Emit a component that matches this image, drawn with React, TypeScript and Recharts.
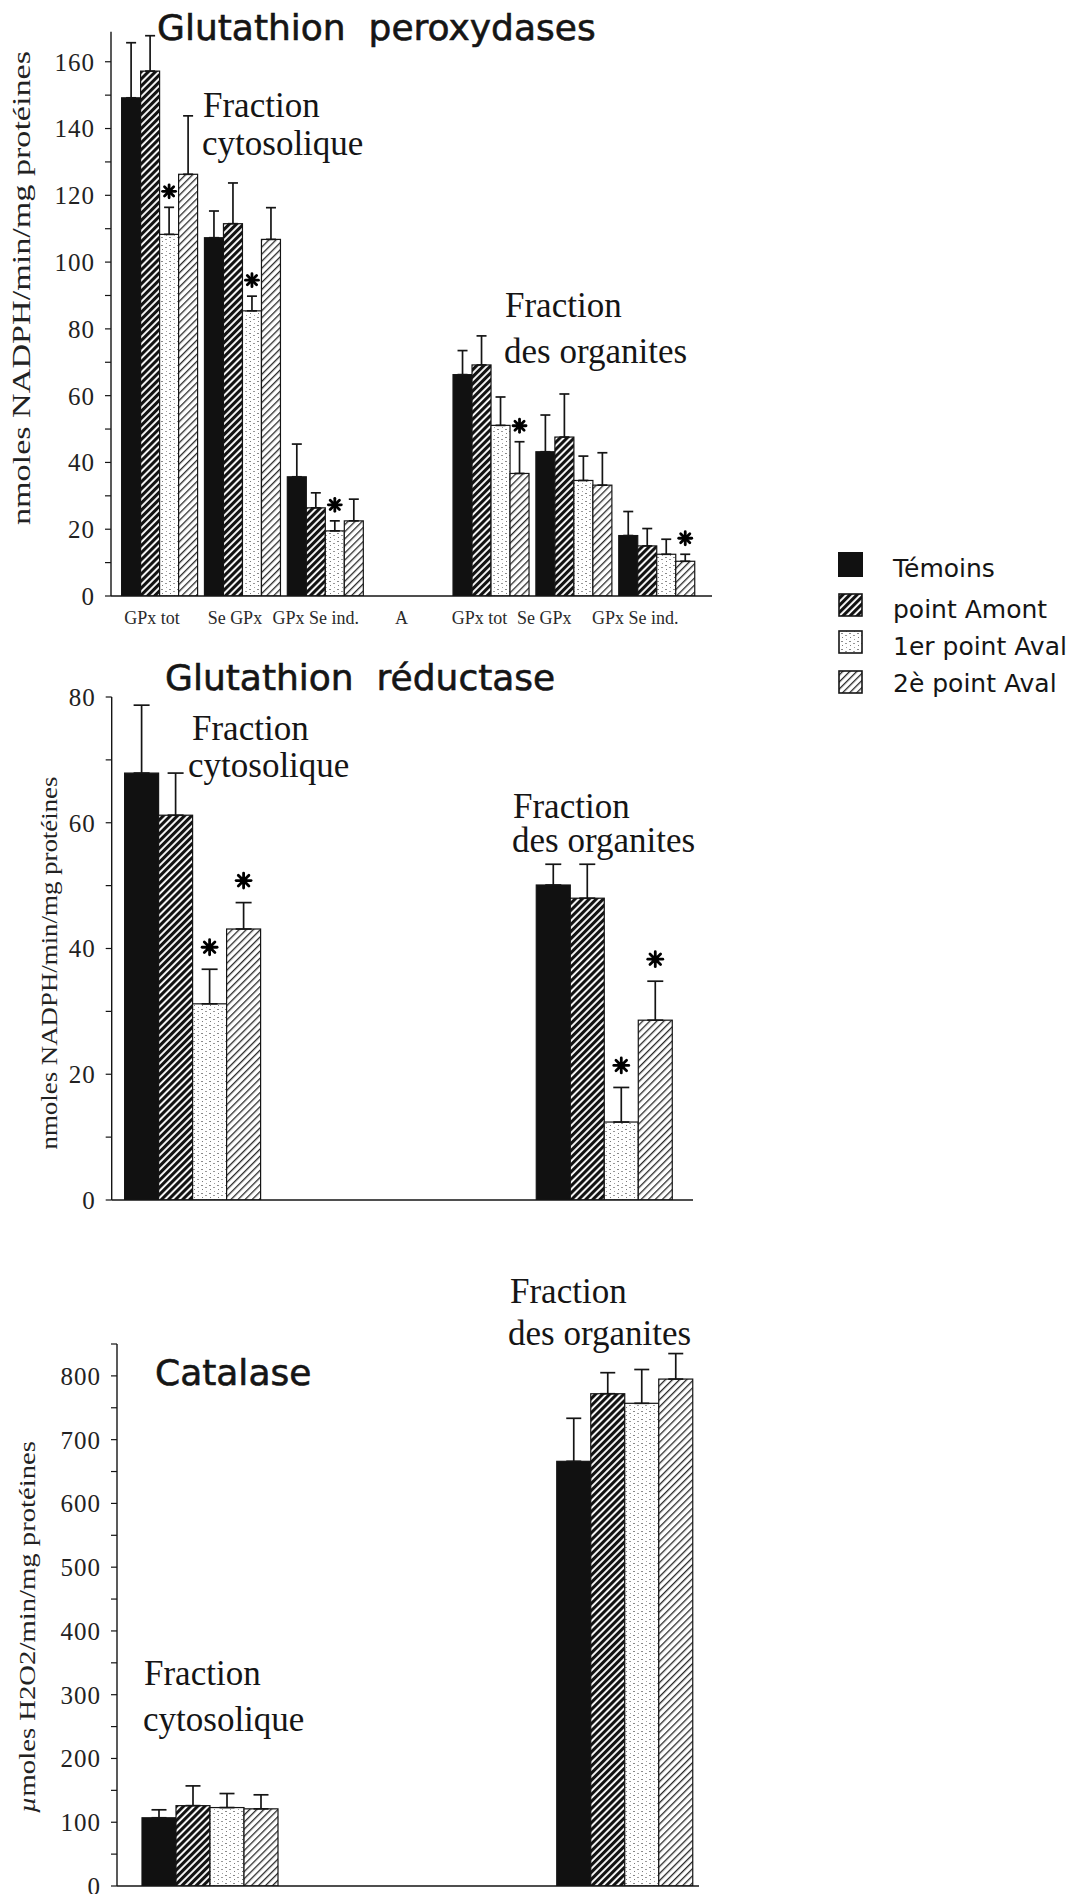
import React from 'react';
import { BarChart, Bar, XAxis, YAxis, ErrorBar } from 'recharts';

// ---------------- Series ----------------
const seriesNames = ['Témoins', 'point Amont', '1er point Aval', '2è point Aval'];

// ---------------- Glutathion peroxydases ----------------
const gpxCategories = ['GPx tot', 'Se GPx', 'GPx Se ind.', 'A', 'GPx tot', 'Se GPx', 'GPx Se ind.'];
const gpxTemoins = [149.2, 107.3, 35.7, null, 66.3, 43.2, 18.1];
const gpxAmont = [157.2, 111.5, 26.4, null, 69.2, 47.6, 15.0];
const gpxAval1 = [108.3, 85.4, 19.5, null, 51.1, 34.6, 12.5];
const gpxAval2 = [126.3, 106.8, 22.5, null, 36.7, 33.2, 10.4];
const gpxTemoinsErr = [16.5, 8.0, 9.8, null, 7.2, 11.0, 7.2];
const gpxAmontErr = [10.6, 12.2, 4.5, null, 8.7, 12.9, 5.2];
const gpxAval1Err = [8.1, 4.4, 3.0, null, 8.5, 7.3, 4.5];
const gpxAval2Err = [17.5, 9.5, 6.5, null, 9.5, 9.7, 2.1];
const gpxNoStar = [false, false, false, false, false, false, false];
const gpxAval1Star = [true, true, true, false, false, false, false];
const gpxAval2Star = [false, false, false, false, true, false, true];
const gpxTicks = [0, 10, 20, 30, 40, 50, 60, 70, 80, 90, 100, 110, 120, 130, 140, 150, 160];

// ---------------- Glutathion réductase ----------------
const grCategories = ['Fraction cytosolique', '', ' ', 'Fraction des organites'];
const grTemoins = [67.9, null, null, 50.1];
const grAmont = [61.2, null, null, 48.0];
const grAval1 = [31.2, null, null, 12.4];
const grAval2 = [43.1, null, null, 28.6];
const grTemoinsErr = [10.8, null, null, 3.3];
const grAmontErr = [6.7, null, null, 5.4];
const grAval1Err = [5.5, null, null, 5.5];
const grAval2Err = [4.2, null, null, 6.2];
const grNoStar = [false, false, false, false];
const grAval1Star = [true, false, false, true];
const grAval2Star = [true, false, false, true];
const grTicks = [0, 10, 20, 30, 40, 50, 60, 70, 80];

// ---------------- Catalase ----------------
const catCategories = ['Fraction cytosolique', '', ' ', 'Fraction des organites'];
const catTemoins = [107, null, null, 666];
const catAmont = [126, null, null, 772];
const catAval1 = [123, null, null, 757];
const catAval2 = [121, null, null, 795];
const catTemoinsErr = [12.5, null, null, 67.5];
const catAmontErr = [31, null, null, 33];
const catAval1Err = [22, null, null, 53];
const catAval2Err = [22, null, null, 40];
const catNoStar = [false, false, false, false];
const catTicks = [0, 50, 100, 150, 200, 250, 300, 350, 400, 450, 500, 550, 600, 650, 700, 750, 800, 850];

// ---------------- helpers ----------------
const FILLS = ['#111111', 'url(#hatchAmont)', 'url(#speckle)', 'url(#hatchAval2)'];
const INK = '#151515';
// horizontal nudges of the top chart's category labels (layout only)
const TOP_LABEL_DX = [-8, -8, -10, -7, -12, -30, -22];

function buildRows(cats: string[], values: (number | null)[][], errors: (number | null)[][], stars: boolean[][]) {
  return cats.map((c, k) => {
    const row: any = { cat: c };
    values.forEach((arr, i) => {
      row[`s${i}`] = arr[k];
      row[`e${i}`] = errors[i][k] == null ? null : [0, errors[i][k]];
      row[`st${i}`] = stars[i][k];
    });
    return row;
  });
}

const gpxRows = buildRows(
  gpxCategories,
  [gpxTemoins, gpxAmont, gpxAval1, gpxAval2],
  [gpxTemoinsErr, gpxAmontErr, gpxAval1Err, gpxAval2Err],
  [gpxNoStar, gpxNoStar, gpxAval1Star, gpxAval2Star]
);
const grRows = buildRows(
  grCategories,
  [grTemoins, grAmont, grAval1, grAval2],
  [grTemoinsErr, grAmontErr, grAval1Err, grAval2Err],
  [grNoStar, grNoStar, grAval1Star, grAval2Star]
);
const catRows = buildRows(
  catCategories,
  [catTemoins, catAmont, catAval1, catAval2],
  [catTemoinsErr, catAmontErr, catAval1Err, catAval2Err],
  [catNoStar, catNoStar, catNoStar, catNoStar]
);

function Star({ cx, cy, r }: { cx: number; cy: number; r: number }) {
  return (
    <g>
      {[0, 45, 90, 135].map((a) => {
        const t = (a * Math.PI) / 180;
        return (
          <line
            key={a}
            x1={cx - r * Math.cos(t)}
            y1={cy - r * Math.sin(t)}
            x2={cx + r * Math.cos(t)}
            y2={cy + r * Math.sin(t)}
            stroke="#000"
            strokeWidth={2.8}
            strokeLinecap="round"
          />
        );
      })}
      <circle cx={cx} cy={cy} r={r * 0.5} fill="#000" />
    </g>
  );
}

const makeShape = (i: number, starOffset: number, starR: number) => (props: any) => {
  const { x, y, width, height, payload } = props;
  if (x == null || y == null || height == null || isNaN(height) || !payload) return <g />;
  const v = payload[`s${i}`];
  const e = payload[`e${i}`];
  let starEl = null;
  if (payload[`st${i}`] && v) {
    const pxPerUnit = height / v;
    const capY = y - (e ? e[1] : 0) * pxPerUnit;
    starEl = <Star cx={x + width / 2} cy={capY - starOffset} r={starR} />;
  }
  return (
    <g>
      <rect x={x} y={y} width={width} height={height} fill={FILLS[i]} stroke={INK} strokeWidth={1.2} />
      {starEl}
    </g>
  );
};

const TopTick = (props: any) => {
  const { x, y, payload, index } = props;
  const dx = TOP_LABEL_DX[index] || 0;
  return (
    <text
      x={x + dx}
      y={y}
      dy="0.71em"
      textAnchor="middle"
      fontSize={18}
      fontFamily="Liberation Serif"
      fill="#2a2a2a"
    >
      {payload.value}
    </text>
  );
};

type PanelProps = {
  rows: any[];
  top: number;
  width: number;
  height: number;
  marginTop: number;
  marginRight: number;
  yAxisWidth: number;
  xHeight: number;
  xPadLeft: number;
  xPadRight: number;
  domain: [number, number];
  ticks: number[];
  labelEvery: number;
  barSize: number;
  capHalf: number;
  starOffset: number;
  starR: number;
  showXTicks: boolean;
};

function Panel(p: PanelProps) {
  return (
    <div style={{ position: 'absolute', left: 0, top: p.top }}>
      <BarChart
        width={p.width}
        height={p.height}
        data={p.rows}
        margin={{ top: p.marginTop, right: p.marginRight, bottom: 0, left: 0 }}
        barGap={0}
        barCategoryGap={0}
      >
        <XAxis
          dataKey="cat"
          interval={0}
          axisLine={{ stroke: INK, strokeWidth: 1.6 }}
          tickLine={false}
          tickSize={6}
          tickMargin={9.5}
          height={p.xHeight}
          padding={{ left: p.xPadLeft, right: p.xPadRight }}
          tick={p.showXTicks ? <TopTick /> : false}
        />
        <YAxis
          type="number"
          domain={p.domain}
          ticks={p.ticks}
          interval={0}
          allowDataOverflow
          width={p.yAxisWidth}
          tickSize={6}
          tickMargin={10}
          tickLine={{ stroke: INK, strokeWidth: 1.2 }}
          axisLine={{ stroke: INK, strokeWidth: 1.4 }}
          tickFormatter={(v: number) => (v % p.labelEvery === 0 ? String(v) : '')}
          tick={{ fontSize: 25, fontFamily: 'Liberation Serif', fill: '#222', letterSpacing: 1 }}
        />
        {seriesNames.map((name, i) => (
          <Bar
            key={name}
            name={name}
            dataKey={`s${i}`}
            fill={FILLS[i]}
            stroke={INK}
            barSize={p.barSize}
            isAnimationActive={false}
            shape={makeShape(i, p.starOffset, p.starR)}
          >
            <ErrorBar dataKey={`e${i}`} direction="y" width={p.capHalf} stroke={INK} strokeWidth={1.7} />
          </Bar>
        ))}
      </BarChart>
    </div>
  );
}

const serif = 'Liberation Serif';
const sans = 'DejaVu Sans';

function Overlay() {
  const legendY = [552, 594, 631, 671];
  const legendBase = [577, 618, 655, 692];
  const titleStyle = { whiteSpace: 'pre' as const };
  return (
    <svg
      width={1072}
      height={1894}
      style={{ position: 'absolute', left: 0, top: 0, pointerEvents: 'none' }}
    >
      <defs>
        <pattern id="hatchAmont" patternUnits="userSpaceOnUse" width={5} height={5} patternTransform="rotate(45)">
          <rect width={5} height={5} fill="#fff" />
          <rect x={0} y={0} width={3.1} height={5} fill="#121212" />
        </pattern>
        <pattern id="hatchAval2" patternUnits="userSpaceOnUse" width={5} height={5} patternTransform="rotate(45)">
          <rect width={5} height={5} fill="#fff" />
          <rect x={0} y={0} width={1.3} height={5} fill="#2a2a2a" />
        </pattern>
        <pattern id="speckle" patternUnits="userSpaceOnUse" width={8} height={8}>
          <rect width={8} height={8} fill="#fff" />
          <rect x={1} y={1} width={2} height={1} fill="#8a8a8a" />
          <rect x={5} y={3} width={2} height={1} fill="#9a9a9a" />
          <rect x={2} y={5} width={1} height={1} fill="#7a7a7a" />
          <rect x={6} y={7} width={1} height={1} fill="#a0a0a0" />
        </pattern>
      </defs>

      {/* Titles */}
      <g fontFamily={sans} fontSize={36} fill={INK} stroke={INK} strokeWidth={0.6}>
        <text x={157} y={40} style={titleStyle}>
          {'Glutathion  peroxydases'}
        </text>
        <text x={165} y={690} style={titleStyle}>
          {'Glutathion  réductase'}
        </text>
        <text x={155} y={1385}>Catalase</text>
      </g>

      {/* Fraction labels */}
      <g fontFamily={serif} fontSize={35} fill={INK}>
        <text x={203} y={117}>Fraction</text>
        <text x={202} y={155}>cytosolique</text>
        <text x={505} y={317}>Fraction</text>
        <text x={504} y={363}>des organites</text>

        <text x={192} y={740}>Fraction</text>
        <text x={188} y={777}>cytosolique</text>
        <text x={513} y={818}>Fraction</text>
        <text x={512} y={852}>des organites</text>

        <text x={510} y={1303}>Fraction</text>
        <text x={508} y={1345}>des organites</text>
        <text x={144} y={1685}>Fraction</text>
        <text x={143} y={1731}>cytosolique</text>
      </g>

      {/* Y axis titles */}
      <text
        transform="translate(22,288) rotate(-90)"
        textAnchor="middle"
        dy="0.32em"
        fontFamily={serif}
        fontSize={25}
        fill="#222"
        textLength={474}
        lengthAdjust="spacingAndGlyphs"
      >
        nmoles NADPH/min/mg protéines
      </text>
      <text
        transform="translate(50,963) rotate(-90)"
        textAnchor="middle"
        dy="0.32em"
        fontFamily={serif}
        fontSize={23}
        fill="#222"
        textLength={373}
        lengthAdjust="spacingAndGlyphs"
      >
        nmoles NADPH/min/mg protéines
      </text>
      <text
        transform="translate(27,1627) rotate(-90)"
        textAnchor="middle"
        dy="0.32em"
        fontFamily={serif}
        fontSize={24}
        fill="#222"
        textLength={372}
        lengthAdjust="spacingAndGlyphs"
      >
        <tspan fontStyle="italic">µ</tspan>moles H2O2/min/mg protéines
      </text>

      {/* Legend */}
      {seriesNames.map((name, i) => (
        <g key={name}>
          {i === 0 ? (
            <rect x={838} y={legendY[i]} width={25} height={25} fill={FILLS[i]} />
          ) : (
            <rect x={839} y={legendY[i]} width={23} height={22} fill={FILLS[i]} stroke={INK} strokeWidth={1.6} />
          )}
          <text x={893} y={legendBase[i]} fontFamily={sans} fontSize={25} fill={INK}>
            {name}
          </text>
        </g>
      ))}
    </svg>
  );
}

export default function App() {
  return (
    <div style={{ position: 'absolute', left: 0, top: 0, width: 1072, height: 1894, background: '#fff', overflow: 'hidden' }}>
      <Panel
        rows={gpxRows}
        top={20}
        width={730}
        height={616}
        marginTop={11.7}
        marginRight={18}
        yAxisWidth={111}
        xHeight={40}
        xPadLeft={7.6}
        xPadRight={13.4}
        domain={[0, 169]}
        ticks={gpxTicks}
        labelEvery={20}
        barSize={19}
        capHalf={5}
        starOffset={16}
        starR={6.5}
        showXTicks={true}
      />
      <Panel
        rows={grRows}
        top={680}
        width={713}
        height={540}
        marginTop={17}
        marginRight={20}
        yAxisWidth={111.7}
        xHeight={20}
        xPadLeft={11.9}
        xPadRight={20.5}
        domain={[0, 80]}
        ticks={grTicks}
        labelEvery={20}
        barSize={34}
        capHalf={8}
        starOffset={22}
        starR={7.5}
        showXTicks={false}
      />
      <Panel
        rows={catRows}
        top={1330}
        width={719}
        height={564}
        marginTop={14}
        marginRight={20}
        yAxisWidth={117}
        xHeight={8}
        xPadLeft={24}
        xPadRight={5}
        domain={[0, 850]}
        ticks={catTicks}
        labelEvery={100}
        barSize={34}
        capHalf={7.5}
        starOffset={20}
        starR={7}
        showXTicks={false}
      />
      <Overlay />
    </div>
  );
}
